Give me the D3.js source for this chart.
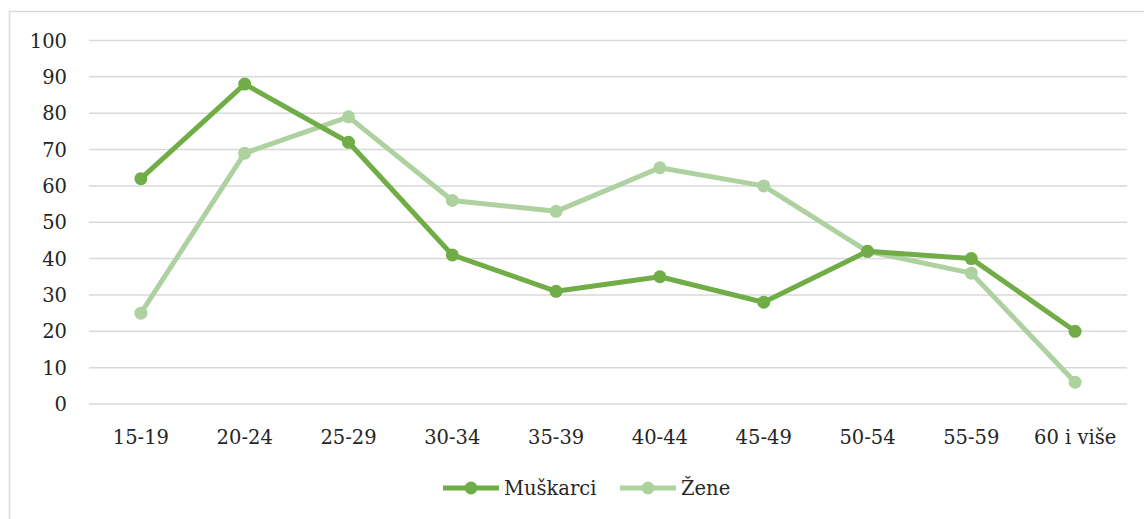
<!DOCTYPE html>
<html>
<head>
<meta charset="utf-8">
<script src="https://cdn.jsdelivr.net/npm/d3@7"></script>
<style>
  body { margin: 0; background: #fff; }
  text { font-family: "DejaVu Serif", serif; fill: #262626; }
</style>
</head>
<body>
<div id="chart"></div>
<script>
const categories = ["15-19", "20-24", "25-29", "30-34", "35-39", "40-44", "45-49", "50-54", "55-59", "60 i više"];
const muskarci = [62, 88, 72, 41, 31, 35, 28, 42, 40, 20];
const zene = [25, 69, 79, 56, 53, 65, 60, 42, 36, 6];
const yTicks = [0, 10, 20, 30, 40, 50, 60, 70, 80, 90, 100];

const width = 1144, height = 519;
const fontSize = "19.5px";
const svg = d3.select("#chart").append("svg")
    .attr("width", width)
    .attr("height", height);

// chart frame
svg.append("rect")
    .attr("x", 9.5).attr("y", 11.5)
    .attr("width", 1160).attr("height", 540)
    .attr("fill", "none")
    .attr("stroke", "#d9d9d9")
    .attr("stroke-width", 1.5);

const x = d3.scaleBand().domain(categories).range([89, 1127]);
const y = d3.scaleLinear().domain([0, 100]).range([404, 40.5]);

// gridlines
svg.append("g")
    .selectAll("line")
    .data(yTicks)
    .join("line")
    .attr("x1", 89).attr("x2", 1127)
    .attr("y1", d => y(d)).attr("y2", d => y(d))
    .attr("stroke", "#d9d9d9")
    .attr("stroke-width", 1.5);

// y labels
svg.append("g")
    .selectAll("text")
    .data(yTicks)
    .join("text")
    .attr("x", 67)
    .attr("y", d => y(d))
    .attr("dy", "0.36em")
    .attr("text-anchor", "end")
    .style("font-size", fontSize)
    .text(d => d);

// x labels
svg.append("g")
    .selectAll("text")
    .data(categories)
    .join("text")
    .attr("x", d => x(d) + x.bandwidth() / 2)
    .attr("y", 444)
    .attr("text-anchor", "middle")
    .style("font-size", fontSize)
    .text(d => d);

const series = [
    { name: "Muškarci", values: muskarci, color: "#70ad47" },
    { name: "Žene", values: zene, color: "#add2a0" }
];

const line = d3.line()
    .x((d, i) => x(categories[i]) + x.bandwidth() / 2)
    .y(d => y(d));

// draw light series first so dark one sits on top
[series[1], series[0]].forEach(s => {
    const g = svg.append("g");
    g.append("path")
        .datum(s.values)
        .attr("d", line)
        .attr("fill", "none")
        .attr("stroke", s.color)
        .attr("stroke-width", 5)
        .attr("stroke-linejoin", "round");
    g.selectAll("circle")
        .data(s.values)
        .join("circle")
        .attr("cx", (d, i) => x(categories[i]) + x.bandwidth() / 2)
        .attr("cy", d => y(d))
        .attr("r", 6.5)
        .attr("fill", s.color);
});

// legend
const legendPos = [443, 620];
const legend = svg.append("g");
series.forEach((s, i) => {
    const lg = legend.append("g").attr("transform", `translate(${legendPos[i]}, 488)`);
    lg.append("line")
        .attr("x1", 0).attr("x2", 56)
        .attr("stroke", s.color)
        .attr("stroke-width", 5);
    lg.append("circle")
        .attr("cx", 28).attr("r", 6.5)
        .attr("fill", s.color);
    lg.append("text")
        .attr("x", 61)
        .attr("dy", "0.36em")
        .style("font-size", fontSize)
        .text(s.name);
});
</script>
</body>
</html>
